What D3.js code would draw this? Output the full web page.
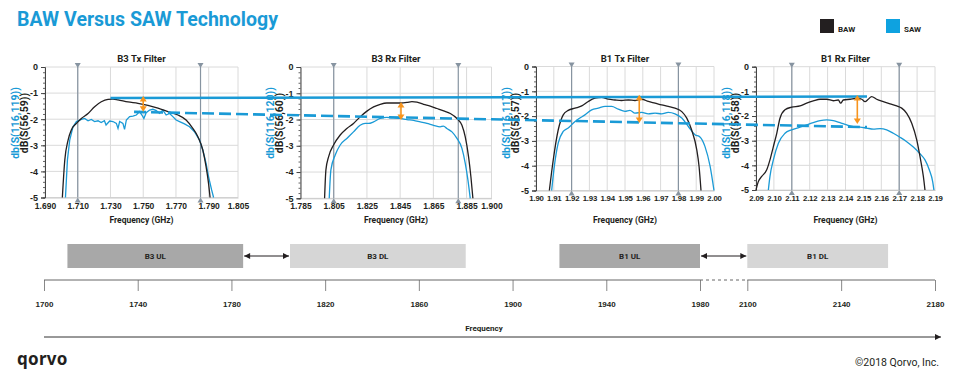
<!DOCTYPE html>
<html>
<head>
<meta charset="utf-8">
<script src="https://cdn.jsdelivr.net/npm/d3@7"></script>
<style>
  body { margin: 0; background: #fff; }
  svg { display: block; font-family: Roboto, "Noto Sans", sans-serif; }
  .tick text { font-weight: 700; }
</style>
</head>
<body>
<svg id="viz" width="960" height="380"></svg>
<script>
"use strict";

// ---- data (GHz, dB) ----
const b3TxBaw = [[1.7006,-5],[1.7021,-3.56],[1.7041,-2.8],[1.7061,-2.41],[1.7092,-2.16],[1.7122,-1.97],[1.7163,-1.78],[1.7203,-1.52],[1.7244,-1.33],[1.7285,-1.24],[1.7315,-1.23],[1.7346,-1.26],[1.7407,-1.34],[1.7468,-1.39],[1.7529,-1.47],[1.7590,-1.58],[1.7651,-1.71],[1.7712,-1.84],[1.7762,-2.03],[1.7803,-2.35],[1.7834,-2.67],[1.7864,-3.18],[1.7884,-3.82],[1.7899,-4.46],[1.7907,-5]];
const b3TxSaw = [[1.7025,-5],[1.7037,-3.56],[1.7051,-2.8],[1.7071,-2.29],[1.7092,-2.09],[1.7122,-2.01],[1.7142,-1.97],[1.7163,-2.06],[1.7183,-2.01],[1.7203,-2.09],[1.7224,-2.06],[1.7243,-2.13],[1.7263,-2.06],[1.7273,-2.22],[1.7295,-2.07],[1.7315,-2.09],[1.7336,-2.16],[1.7346,-2.35],[1.7356,-2.09],[1.7376,-2.16],[1.7386,-2.39],[1.7397,-2.03],[1.7417,-1.90],[1.7437,-1.88],[1.7458,-1.84],[1.7478,-1.71],[1.7492,-1.84],[1.7504,-1.97],[1.7518,-1.75],[1.7539,-1.65],[1.7559,-1.62],[1.7580,-1.67],[1.7600,-1.78],[1.7620,-1.65],[1.7640,-1.84],[1.7661,-1.78],[1.7681,-1.90],[1.7701,-2.03],[1.7722,-2.09],[1.7752,-2.18],[1.7783,-2.29],[1.7813,-2.48],[1.7844,-2.80],[1.7864,-3.18],[1.7884,-3.69],[1.7899,-4.20],[1.7915,-4.71],[1.7925,-5]];
const b3RxBaw = [[1.7995,-5],[1.8003,-3.92],[1.8019,-3.42],[1.8049,-2.97],[1.8089,-2.59],[1.8129,-2.34],[1.8169,-2.15],[1.8209,-1.90],[1.8250,-1.68],[1.8290,-1.52],[1.8330,-1.42],[1.8370,-1.37],[1.8410,-1.37],[1.8450,-1.37],[1.8491,-1.35],[1.8521,-1.32],[1.8551,-1.34],[1.8591,-1.42],[1.8631,-1.49],[1.8672,-1.58],[1.8712,-1.67],[1.8752,-1.77],[1.8792,-1.96],[1.8822,-2.22],[1.8842,-2.66],[1.8862,-3.42],[1.8876,-4.18],[1.8888,-5]];
const b3RxSaw = [[1.8023,-5],[1.8033,-3.92],[1.8059,-3.35],[1.8089,-2.97],[1.8129,-2.72],[1.8169,-2.47],[1.8209,-2.22],[1.8239,-2.15],[1.8260,-2.15],[1.8290,-2.09],[1.8330,-1.96],[1.8370,-1.92],[1.8410,-1.94],[1.8450,-1.96],[1.8491,-2.0],[1.8531,-2.03],[1.8571,-2.09],[1.8611,-2.15],[1.8651,-2.22],[1.8691,-2.28],[1.8711,-2.25],[1.8731,-2.34],[1.8762,-2.47],[1.8792,-2.72],[1.8822,-3.10],[1.8842,-3.67],[1.8858,-4.30],[1.8872,-5]];
const b1TxBaw = [[1.9075,-5],[1.9097,-3.76],[1.9125,-2.55],[1.9153,-1.95],[1.9181,-1.77],[1.9219,-1.68],[1.9257,-1.59],[1.9294,-1.41],[1.9331,-1.28],[1.9369,-1.24],[1.9406,-1.32],[1.9444,-1.35],[1.9481,-1.37],[1.9519,-1.35],[1.9556,-1.37],[1.9594,-1.32],[1.9631,-1.41],[1.9669,-1.48],[1.9706,-1.55],[1.9743,-1.61],[1.9781,-1.68],[1.9819,-1.82],[1.9847,-2.08],[1.9874,-2.55],[1.9903,-3.35],[1.9916,-4.02],[1.9927,-5]];
const b1TxSaw = [[1.9088,-5],[1.9103,-4.02],[1.9125,-3.08],[1.9153,-2.62],[1.9181,-2.48],[1.9210,-2.28],[1.9238,-2.12],[1.9275,-1.95],[1.9313,-1.75],[1.9350,-1.68],[1.9388,-1.61],[1.9425,-1.61],[1.9462,-1.72],[1.9500,-1.81],[1.9528,-1.77],[1.9556,-1.88],[1.9594,-1.85],[1.9631,-1.91],[1.9669,-1.88],[1.9706,-1.91],[1.9743,-1.85],[1.9781,-1.91],[1.9819,-2.08],[1.9856,-2.42],[1.9893,-2.75],[1.9921,-2.84],[1.9949,-3.22],[1.9978,-4.02],[2.0,-5]];
const b1RxBaw = [[2.0900,-5],[2.0913,-4.66],[2.0932,-4.45],[2.0960,-4.18],[2.0978,-3.78],[2.0997,-3.24],[2.1016,-2.70],[2.1034,-2.09],[2.1062,-1.75],[2.1099,-1.64],[2.1146,-1.59],[2.1183,-1.48],[2.1220,-1.39],[2.1258,-1.32],[2.1295,-1.32],[2.1332,-1.38],[2.1360,-1.35],[2.1373,-1.48],[2.1388,-1.35],[2.1425,-1.32],[2.1463,-1.28],[2.1491,-1.32],[2.1509,-1.42],[2.1527,-1.32],[2.1546,-1.21],[2.1574,-1.32],[2.1611,-1.42],[2.1649,-1.51],[2.1686,-1.59],[2.1714,-1.68],[2.1742,-1.89],[2.1770,-2.29],[2.1798,-2.97],[2.1816,-3.64],[2.1835,-4.45],[2.1844,-5]];
const b1RxSaw = [[2.0969,-5],[2.0978,-4.45],[2.0997,-3.78],[2.1025,-3.10],[2.1062,-2.70],[2.1099,-2.56],[2.1146,-2.45],[2.1183,-2.36],[2.1220,-2.27],[2.1258,-2.19],[2.1295,-2.16],[2.1332,-2.19],[2.1369,-2.27],[2.1407,-2.36],[2.1444,-2.43],[2.1481,-2.45],[2.1518,-2.49],[2.1555,-2.53],[2.1593,-2.51],[2.1630,-2.56],[2.1667,-2.70],[2.1704,-2.86],[2.1742,-3.04],[2.1779,-3.26],[2.1816,-3.53],[2.1844,-3.78],[2.1868,-4.18],[2.1887,-4.66],[2.1894,-5]];

const panelTitles = ["B3 Tx Filter", "B3 Rx Filter", "B1 Tx Filter", "B1 Rx Filter"];
const sawLabels = ["db(S(116,119))", "db(S(116,120))", "db(S(116,117))", "db(S(116,118))"];
const bawLabels = ["dB(S(56,59))", "dB(S(56,60))", "dB(S(56,57))", "dB(S(56,58))"];
const b3TxTicks = [1.690, 1.710, 1.730, 1.750, 1.770, 1.790, 1.805];
const b3RxTicks = [1.785, 1.805, 1.825, 1.845, 1.865, 1.885, 1.900];
const b1TxTicks = [1.90, 1.91, 1.92, 1.93, 1.94, 1.95, 1.96, 1.97, 1.98, 1.99, 2.00];
const b1RxTicks = [2.09, 2.10, 2.11, 2.12, 2.13, 2.14, 2.15, 2.16, 2.17, 2.18, 2.19];
const dbTicks = [0, -1, -2, -3, -4, -5];
const markerFreqs = [[1.710, 1.785], [1.805, 1.880], [1.92, 1.98], [2.11, 2.17]];
// orange gap arrows: frequency, top dB, bottom dB
const gapArrows = [[1.750, -1.11, -1.71], [1.8455, -1.33, -2.02], [1.958, -1.14, -2.28], [2.1466, -1.15, -2.32]];
// reference levels: [panel, GHz, dB] start and end
const bawLevel = [[0, 1.730, -1.19], [3, 2.152, -1.21]];
const sawLevel = [[0, 1.7444, -1.72], [3, 2.152, -2.45]];

const bandNames = ["B3 UL", "B3 DL", "B1 UL", "B1 DL"];
const bandStart = [1710, 1805, 1920, 2100];
const bandEnd = [1785, 1880, 1980, 2160];
const bandKind = ["ul", "dl", "ul", "dl"];
const freqTicks = [1700, 1740, 1780, 1820, 1860, 1900, 1940, 1980, 2100, 2140, 2180];

// ---- layout ----
const blue = "#1a9ad6", black = "#231f20", orange = "#f7941d", markGray = "#8794a1";
const panels = [
  { baw: b3TxBaw, saw: b3TxSaw, ticks: b3TxTicks, xd: [1.69, 1.79, 1.805], xr: [45, 208.7, 238], yr: [67, 197.5], fmt: ".3f", tfs: 8.5 },
  { baw: b3RxBaw, saw: b3RxSaw, ticks: b3RxTicks, xd: [1.785, 1.90], xr: [300.5, 491.5], yr: [67, 198.3], fmt: ".3f", tfs: 8.5 },
  { baw: b1TxBaw, saw: b1TxSaw, ticks: b1TxTicks, xd: [1.90, 2.00], xr: [536, 714], yr: [66.5, 190.5], fmt: ".2f", tfs: 7.8 },
  { baw: b1RxBaw, saw: b1RxSaw, ticks: b1RxTicks, xd: [2.09, 2.19], xr: [756, 935], yr: [66.7, 190], fmt: ".2f", tfs: 7.8 }
];

const svg = d3.select("#viz");

// title + legend
svg.append("text").attr("x", 17).attr("y", 26)
  .attr("font-size", 20).attr("font-weight", 700).attr("fill", blue)
  .attr("textLength", 261).attr("lengthAdjust", "spacingAndGlyphs")
  .text("BAW Versus SAW Technology");
[["BAW", black, 820], ["SAW", "#0ea2e0", 886]].forEach(([name, col, lx]) => {
  svg.append("rect").attr("x", lx).attr("y", 19).attr("width", 14).attr("height", 14).attr("fill", col);
  svg.append("text").attr("x", lx + 18).attr("y", 32).attr("font-size", 8).attr("font-weight", 700)
    .attr("fill", black).text(name);
});

panels.forEach((p, i) => {
  const x = d3.scaleLinear().domain(p.xd).range(p.xr);
  const y = d3.scaleLinear().domain([0, -5]).range(p.yr);
  p.x = x; p.y = y;
  const x0 = p.xr[0], x1 = p.xr[p.xr.length - 1];
  const g = svg.append("g").attr("class", "panel");

  // grid
  g.append("g").selectAll("line").data(dbTicks).join("line")
    .attr("x1", x0).attr("x2", x1).attr("y1", y).attr("y2", y)
    .attr("stroke", "#dadada");
  g.append("g").selectAll("line").data(p.ticks).join("line")
    .attr("x1", x).attr("x2", x).attr("y1", y(0)).attr("y2", y(-5))
    .attr("stroke", "#dadada");

  // x axis labels
  const xAxis = d3.axisBottom(x).tickValues(p.ticks).tickSize(0).tickPadding(5)
    .tickFormat(d3.format(p.fmt));
  g.append("g").attr("transform", `translate(0,${y(-5)})`).call(xAxis)
    .call(a => a.select(".domain").attr("stroke", "#c8c8c8"))
    .selectAll("text").attr("font-size", p.tfs).attr("letter-spacing", p.tfs < 8 ? -0.2 : 0).attr("fill", black);

  // y axis with minor ticks
  g.append("g").attr("transform", `translate(${x0},0)`)
    .call(d3.axisLeft(y).tickValues(d3.range(0, -5.01, -0.2)).tickSize(2).tickFormat(""))
    .call(a => a.select(".domain").remove())
    .selectAll("line").attr("stroke", "#666");
  g.append("g").attr("transform", `translate(${x0},0)`)
    .call(d3.axisLeft(y).tickValues(dbTicks).tickSize(4).tickPadding(3).tickFormat(d => String(d)))
    .call(a => a.select(".domain").attr("stroke", "#444"))
    .call(a => a.selectAll("line").attr("stroke", "#444"))
    .selectAll("text").attr("font-size", 9).attr("fill", black);

  // title + axis titles
  g.append("text").attr("x", (x0 + x1) / 2).attr("y", 62).attr("text-anchor", "middle")
    .attr("font-size", 9.5).attr("font-weight", 700).attr("fill", black).text(panelTitles[i]);
  g.append("text").attr("x", (x0 + x1) / 2).attr("y", 223).attr("text-anchor", "middle")
    .attr("font-size", 8.5).attr("font-weight", 700).attr("fill", black).text("Frequency (GHz)");
  const yc = 123;
  g.append("text").attr("transform", `translate(${x0 - 26.5},${yc}) rotate(-90)`).attr("text-anchor", "middle")
    .attr("font-size", 10.5).attr("font-weight", 700).attr("fill", blue).text(sawLabels[i]);
  g.append("text").attr("transform", `translate(${x0 - 17.5},${yc}) rotate(-90)`).attr("text-anchor", "middle")
    .attr("font-size", 10.5).attr("font-weight", 700).attr("fill", black).text(bawLabels[i]);

  // band-edge markers
  markerFreqs[i].forEach(f => {
    const mx = x(f);
    g.append("line").attr("x1", mx).attr("x2", mx).attr("y1", y(0)).attr("y2", y(-5))
      .attr("stroke", markGray).attr("stroke-width", 1.2);
    g.append("path").attr("d", `M${mx - 3},${y(0) - 4}L${mx + 3},${y(0) - 4}L${mx},${y(0) + 1}Z`).attr("fill", markGray);
    g.append("path").attr("d", `M${mx - 3},${y(-5) + 5}L${mx + 3},${y(-5) + 5}L${mx},${y(-5)}Z`).attr("fill", markGray);
  });

  // curves
  const line = d3.line().x(d => x(d[0])).y(d => y(d[1]));
  g.append("path").datum(p.saw).attr("d", line.curve(i === 0 ? d3.curveLinear : d3.curveMonotoneX))
    .attr("fill", "none").attr("stroke", blue).attr("stroke-width", 1.3);
  g.append("path").datum(p.baw).attr("d", line.curve(d3.curveMonotoneX))
    .attr("fill", "none").attr("stroke", black).attr("stroke-width", 1.3);
});

// reference levels across the panels
const pt = d => [panels[d[0]].x(d[1]), panels[d[0]].y(d[2])];
svg.append("path").attr("d", d3.line()(bawLevel.map(pt)))
  .attr("stroke", blue).attr("stroke-width", 2.6).attr("fill", "none");
svg.append("path").attr("d", d3.line()(sawLevel.map(pt)))
  .attr("stroke", blue).attr("stroke-width", 2.6).attr("fill", "none").attr("stroke-dasharray", "12,5");

// orange gap arrows
gapArrows.forEach((a, i) => {
  const p = panels[i];
  const ax = p.x(a[0]), yt = p.y(a[1]), yb = p.y(a[2]);
  svg.append("line").attr("x1", ax).attr("x2", ax).attr("y1", yt + 3).attr("y2", yb - 3)
    .attr("stroke", orange).attr("stroke-width", 1.6);
  svg.append("path").attr("d", `M${ax},${yt}L${ax - 3.5},${yt + 5.5}L${ax + 3.5},${yt + 5.5}Z`).attr("fill", orange);
  svg.append("path").attr("d", `M${ax},${yb}L${ax - 3.5},${yb - 5.5}L${ax + 3.5},${yb - 5.5}Z`).attr("fill", orange);
});

// ---- band diagram ----
const fx = d3.scaleLinear().domain([1700, 1980, 2100, 2180]).range([44, 700, 747.3, 935]);
const axisY = 280;
const defs = svg.append("defs");
defs.append("marker").attr("id", "ah").attr("viewBox", "0 0 10 10").attr("refX", 10).attr("refY", 5)
  .attr("markerWidth", 10).attr("markerHeight", 6).attr("markerUnits", "userSpaceOnUse").attr("orient", "auto-start-reverse")
  .append("path").attr("d", "M0,0L10,5L0,10Z").attr("fill", black);

const bands = svg.append("g");
bands.selectAll("rect").data(bandNames).join("rect")
  .attr("x", (d, i) => fx(bandStart[i])).attr("width", (d, i) => fx(bandEnd[i]) - fx(bandStart[i]))
  .attr("y", 244).attr("height", 24)
  .attr("fill", (d, i) => bandKind[i] === "ul" ? "#a8a8a8" : "#d6d6d6");
bands.selectAll("text").data(bandNames).join("text")
  .attr("x", (d, i) => (fx(bandStart[i]) + fx(bandEnd[i])) / 2).attr("y", 259)
  .attr("text-anchor", "middle").attr("font-size", 8).attr("font-weight", 700).attr("fill", black)
  .text(d => d);
[[0, 1], [2, 3]].forEach(([a, b]) => {
  bands.append("line").attr("x1", fx(bandEnd[a]) + 1).attr("x2", fx(bandStart[b]) - 1)
    .attr("y1", 256).attr("y2", 256).attr("stroke", black).attr("stroke-width", 1)
    .attr("marker-start", "url(#ah)").attr("marker-end", "url(#ah)");
});

const fAxis = d3.axisBottom(fx).tickValues(freqTicks).tickSizeInner(11).tickSizeOuter(0).tickPadding(10)
  .tickFormat(d3.format("d"));
svg.append("g").attr("transform", `translate(0,${axisY})`).call(fAxis)
  .call(a => a.select(".domain").remove())
  .call(a => a.selectAll("line").attr("stroke", "#888"))
  .selectAll("text").attr("font-size", 8).attr("fill", black);
[[1700, 1980, null], [1980, 2100, "3,3"], [2100, 2180, null]].forEach(([a, b, dash]) => {
  svg.append("line").attr("x1", fx(a)).attr("x2", fx(b)).attr("y1", axisY).attr("y2", axisY)
    .attr("stroke", "#666").attr("stroke-width", 1).attr("stroke-dasharray", dash);
});

svg.append("text").attr("x", 484).attr("y", 331).attr("text-anchor", "middle")
  .attr("font-size", 8).attr("font-weight", 700).attr("fill", black).text("Frequency");
svg.append("line").attr("x1", fx(1700)).attr("x2", 941).attr("y1", 337).attr("y2", 337)
  .attr("stroke", "#333").attr("stroke-width", 1).attr("marker-end", "url(#ah)");

// footer
svg.append("text").attr("x", 17).attr("y", 365).attr("font-family", "'Noto Sans', sans-serif")
  .attr("font-size", 17).attr("font-weight", 700).attr("fill", black).attr("letter-spacing", 0.3).text("qorvo");
svg.append("text").attr("x", 939).attr("y", 366).attr("text-anchor", "end")
  .attr("font-size", 10.5).attr("fill", black).text("©2018 Qorvo, Inc.");
</script>
</body>
</html>
